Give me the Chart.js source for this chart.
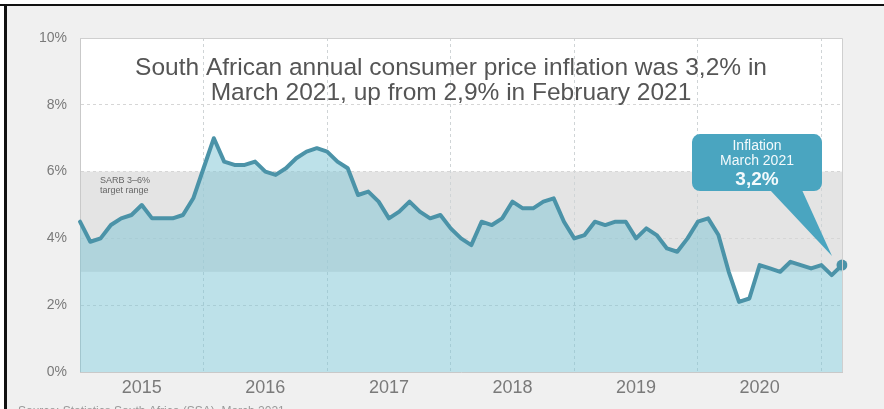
<!DOCTYPE html>
<html>
<head>
<meta charset="utf-8">
<title>South Africa CPI inflation</title>
<script src="https://cdn.jsdelivr.net/npm/chart.js@4.4.1/dist/chart.umd.min.js"></script>
<style>
  html, body { margin: 0; padding: 0; background: #fff; }
  #wrap { width: 884px; height: 409px; }
</style>
</head>
<body>
<div id="wrap"><canvas id="cpi" width="884" height="409"></canvas></div>
<script>
// Headline CPI, year-on-year %, monthly from Jan 2015 to Mar 2021
const years = [2015, 2016, 2017, 2018, 2019, 2020, 2021];
const months = ['Jan', 'Feb', 'Mar', 'Apr', 'May', 'Jun', 'Jul', 'Aug', 'Sep', 'Oct', 'Nov', 'Dec'];
const inflation = [
  4.5, 3.9, 4.0, 4.4, 4.6, 4.7, 5.0, 4.6, 4.6, 4.6, 4.7, 5.2,
  6.1, 7.0, 6.3, 6.2, 6.2, 6.3, 6.0, 5.9, 6.1, 6.4, 6.6, 6.7,
  6.6, 6.3, 6.1, 5.3, 5.4, 5.1, 4.6, 4.8, 5.1, 4.8, 4.6, 4.7,
  4.3, 4.0, 3.8, 4.5, 4.4, 4.6, 5.1, 4.9, 4.9, 5.1, 5.2, 4.5,
  4.0, 4.1, 4.5, 4.4, 4.5, 4.5, 4.0, 4.3, 4.1, 3.7, 3.6, 4.0,
  4.5, 4.6, 4.1, 3.0, 2.1, 2.2, 3.2, 3.1, 3.0, 3.3, 3.2, 3.1,
  3.2, 2.9, 3.2
];
const yearLabels = ['2015', '2016', '2017', '2018', '2019', '2020'];
const targetRange = [3, 6];

const labels = [];
years.forEach(y => months.forEach(m => labels.push(m + ' ' + y)));
labels.length = inflation.length;

const LINE = '#4b93a8';
const CALLOUT = '#4aa5c0';
const fmt = v => v.toFixed(1).replace('.', ',');
const last = inflation.length - 1;

// slide background, plot panel and the SARB target band
const backdrop = {
  id: 'backdrop',
  beforeDraw(chart) {
    const {ctx, chartArea: a, scales: {y}} = chart;
    ctx.save();
    ctx.fillStyle = '#ffffff';
    ctx.fillRect(0, 0, chart.width, chart.height);
    ctx.fillStyle = '#f0f0f0';
    ctx.fillRect(6, 6, chart.width - 6, chart.height - 6);
    ctx.fillStyle = '#111';
    ctx.fillRect(0, 4, chart.width, 2);
    ctx.fillRect(4, 4, 3, chart.height - 4);

    ctx.fillStyle = '#ffffff';
    ctx.fillRect(a.left, a.top, a.right - a.left, a.bottom - a.top);

    const top = y.getPixelForValue(targetRange[1]);
    const bot = y.getPixelForValue(targetRange[0]);
    ctx.fillStyle = '#e4e4e4';
    ctx.fillRect(a.left, top, a.right - a.left, bot - top);

    ctx.fillStyle = '#666';
    ctx.font = '9px "Liberation Sans", Arial, sans-serif';
    ctx.textBaseline = 'middle';
    ctx.textAlign = 'left';
    ctx.fillText('SARB 3–6%', a.left + 20, top + 9);
    ctx.fillText('target range', a.left + 20, top + 19);
    ctx.restore();
  }
};

// headline text, plot frame, callout and source line
const overlay = {
  id: 'overlay',
  afterDatasetsDraw(chart) {
    const {ctx, chartArea: a} = chart;
    ctx.save();

    ctx.strokeStyle = '#cfcfcf';
    ctx.lineWidth = 1;
    ctx.beginPath();
    ctx.moveTo(a.left, a.top + 0.5);
    ctx.lineTo(a.right + 0.5, a.top + 0.5);
    ctx.lineTo(a.right + 0.5, a.bottom);
    ctx.stroke();

    ctx.fillStyle = '#555';
    ctx.font = '24.5px "Liberation Sans", Arial, sans-serif';
    ctx.textAlign = 'center';
    ctx.textBaseline = 'alphabetic';
    const cx = 451;
    ctx.fillText('South African annual consumer price inflation was ' + fmt(inflation[last]) + '% in', cx, 75);
    ctx.fillText('March 2021, up from ' + fmt(inflation[last - 1]) + '% in February 2021', cx, 100);

    const pt = chart.getDatasetMeta(0).data[last];
    const px = pt.x, py = pt.y;
    const bx = px - 150, by = py - 131, bw = 130, bh = 57;
    ctx.fillStyle = CALLOUT;
    ctx.beginPath();
    ctx.roundRect(bx, by, bw, bh, 8);
    ctx.fill();
    ctx.beginPath();
    ctx.moveTo(px - 72, by + bh - 1);
    ctx.lineTo(px - 40, by + bh - 1);
    ctx.lineTo(px - 10, py - 9);
    ctx.closePath();
    ctx.fill();

    ctx.fillStyle = '#f4fafc';
    ctx.textBaseline = 'middle';
    ctx.font = '14px "Liberation Sans", Arial, sans-serif';
    ctx.fillText('Inflation', bx + bw / 2, by + 12);
    ctx.fillText('March 2021', bx + bw / 2, by + 27);
    ctx.font = 'bold 19px "Liberation Sans", Arial, sans-serif';
    ctx.fillText(fmt(inflation[last]) + '%', bx + bw / 2, by + 46);

    ctx.fillStyle = '#9a9a9a';
    ctx.font = '12px "Liberation Sans", Arial, sans-serif';
    ctx.textAlign = 'left';
    ctx.textBaseline = 'top';
    ctx.fillText('Source: Statistics South Africa (SSA), March 2021', 18, 406);
    ctx.restore();
  }
};

new Chart(document.getElementById('cpi'), {
  type: 'line',
  data: {
    labels: labels,
    datasets: [{
      data: inflation,
      borderColor: LINE,
      borderWidth: 4,
      borderJoinStyle: 'round',
      borderCapStyle: 'round',
      tension: 0,
      fill: 'origin',
      backgroundColor: 'rgba(123, 195, 211, 0.5)',
      pointRadius: ctx => ctx.dataIndex === last ? 5.5 : 0,
      pointBackgroundColor: LINE,
      pointBorderWidth: 0
    }]
  },
  options: {
    responsive: false,
    animation: false,
    devicePixelRatio: 1,
    layout: { padding: { top: 38, right: 42, left: 0, bottom: 0 } },
    plugins: {
      legend: { display: false },
      tooltip: { enabled: false }
    },
    scales: {
      x: {
        type: 'category',
        offset: false,
        afterFit: s => { s.height = 37; },
        border: { display: true, color: '#c9c9c9', dash: [3, 3] },
        grid: {
          drawTicks: false,
          color: ctx => (ctx.index > 0 && ctx.index % 12 === 0) ? '#cfd4d6' : 'rgba(0,0,0,0)'
        },
        ticks: {
          autoSkip: false,
          maxRotation: 0,
          padding: 5,
          color: '#7a7a7a',
          font: { family: '"Liberation Sans", Arial, sans-serif', size: 18 },
          callback: (v, i) => i % 12 === 6 ? yearLabels[Math.floor(i / 12)] : ''
        }
      },
      y: {
        min: 0,
        max: 10,
        afterFit: s => { s.width = 80; },
        border: { display: true, color: '#c9c9c9', dash: [3, 3] },
        grid: {
          drawTicks: false,
          color: ctx => ctx.tick && ctx.tick.value === 0 ? 'rgba(0,0,0,0)' : '#d6d6d6'
        },
        ticks: {
          stepSize: 2,
          padding: 13,
          color: '#7a7a7a',
          font: { family: '"Liberation Sans", Arial, sans-serif', size: 14 },
          callback: v => v + '%'
        }
      }
    }
  },
  plugins: [backdrop, overlay]
});
</script>
</body>
</html>
